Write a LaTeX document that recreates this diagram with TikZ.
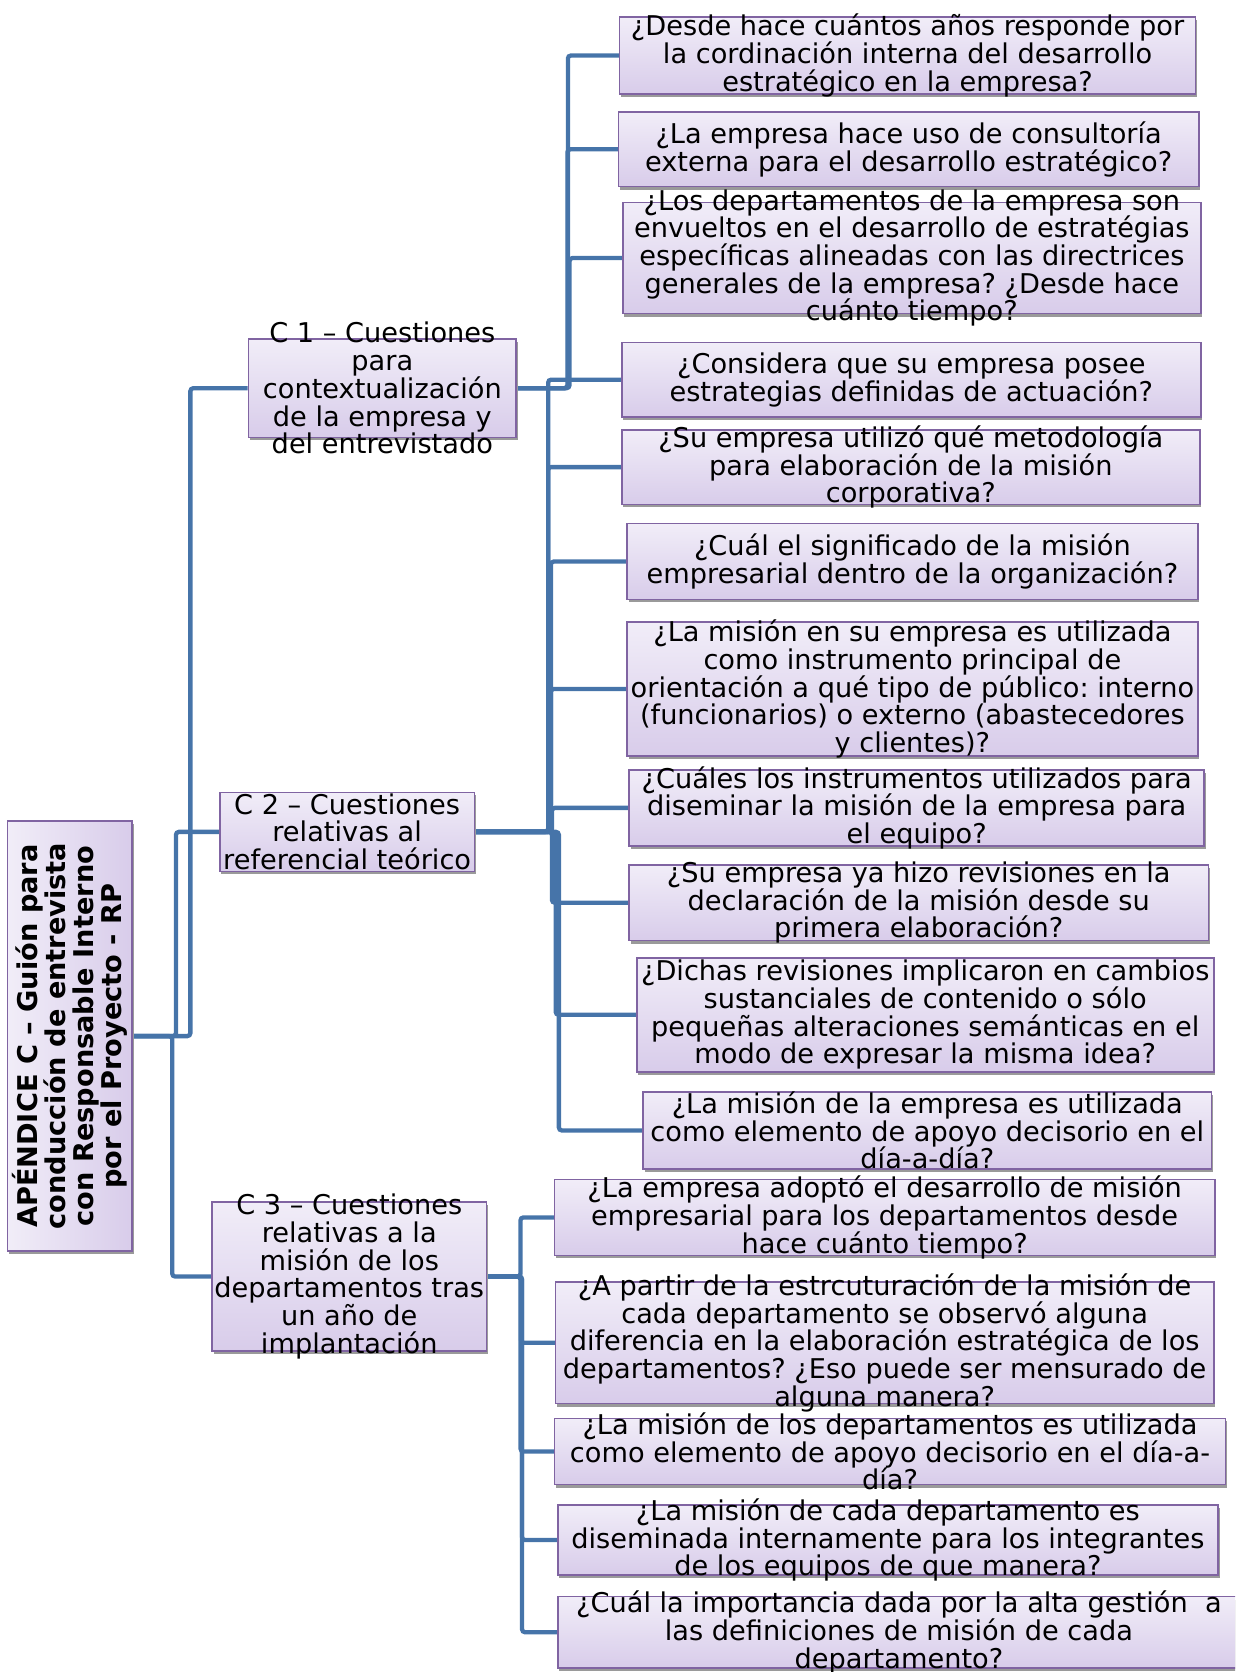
\documentclass[tikz,border=0pt]{standalone}
\usepackage{fontspec}
\setmainfont{DejaVu Sans}
\usetikzlibrary{calc,shadows}
\frenchspacing

\definecolor{linkblue}{HTML}{4674A9}
\definecolor{boxedge}{HTML}{8064A2}
\definecolor{filltop}{HTML}{F1EDF8}
\definecolor{fillbot}{HTML}{D8CCEA}
\definecolor{shadowgrey}{HTML}{9A9A9A}

\pgfdeclarelayer{links}
\pgfsetlayers{links,main}

\tikzset{
  boxbase/.style={draw=boxedge, line width=1.6pt, inner sep=0pt,
    general shadow={shadow xshift=1.5pt, shadow yshift=-3pt, fill=shadowgrey}},
  qbox/.style={boxbase, top color=filltop, bottom color=fillbot},
  rootbox/.style={boxbase, left color=filltop, right color=fillbot},
  qtext/.style={align=center, inner sep=0pt, text=black,
    font=\fontsize{27.2}{27.7}\selectfont\frenchspacing},
  conn/.style={draw=linkblue, line width=4.3pt, rounded corners=3pt},
}

% box from corner (x1,y1) to (x2,y2) with its centred text
\newcommand\qboxat[6]{%
  \node[qbox, minimum width={(#4-#2)*1pt}, minimum height={(#5-#3)*1pt}]
    (#1) at ({(#2+#4)/2},{(#3+#5)/2}) {};
  \node[qtext] (#1t) at (#1.center) {#6};
}
% elbow connector from a parent's right side to a child's left side
\newcommand\linkto[2]{%
  \draw[conn] (#1.east) -| ($(#1.east)!.5!(#2.west)$) |- (#2.west);
}

\begin{document}
\begin{tikzpicture}[x=1pt, y=-1pt]
\useasboundingbox (0,0) rectangle (1235,1672);
\clip (0,0) rectangle (1235,1672);

% root
\node[rootbox, minimum width=124.7pt, minimum height=429.8pt] (root) at (69.85,1036.1) {};
\node[qtext, rotate=90] (roott) at (root.center)
  {\bfseries APÉNDICE C – Guión para\\\bfseries conducción de entrevista\\\bfseries con Responsable Interno\\\bfseries por el Proyecto - RP};

% sections
\qboxat{c1}{248.5}{339.1}{516.2}{437.3}{C 1 – Cuestiones\\para\\contextualización\\de la empresa y\\del entrevistado}
\qboxat{c2}{219.7}{792.4}{474.6}{871.3}{C 2 – Cuestiones\\relativas al\\referencial teórico}
\qboxat{c3}{212.2}{1201.9}{486.3}{1351.2}{C 3 – Cuestiones\\relativas a la\\misión de los\\departamentos tras\\un año de\\implantación}

% questions
\qboxat{q1}{619.6}{17.1}{1195.5}{93.9}{¿Desde hace cuántos años responde por\\la cordinación interna del desarrollo\\estratégico en la empresa?}
\qboxat{q2}{618.6}{112.0}{1198.7}{186.6}{¿La empresa hace uso de consultoría\\externa para el desarrollo estratégico?}
\qboxat{q3}{622.8}{202.6}{1200.9}{313.5}{¿Los departamentos de la empresa son\\envueltos en el desarrollo de estratégias\\específicas alineadas con las directrices\\generales de la empresa? ¿Desde hace\\cuánto tiempo?}
\qboxat{q4}{621.7}{342.3}{1200.9}{417.0}{¿Considera que su empresa posee\\estrategias definidas de actuación?}
\qboxat{q5}{621.7}{429.8}{1199.9}{504.4}{¿Su empresa utilizó qué metodología\\para elaboración de la misión\\corporativa?}
\qboxat{q6}{627.1}{523.6}{1197.7}{599.4}{¿Cuál el significado de la misión\\empresarial dentro de la organización?}
\qboxat{q7}{627.1}{621.8}{1197.7}{756.1}{¿La misión en su empresa es utilizada\\como instrumento principal de\\orientación a qué tipo de público: interno\\(funcionarios) o externo (abastecedores\\y clientes)?}
\qboxat{q8}{629.2}{770.0}{1204.1}{845.7}{¿Cuáles los instrumentos utilizados para\\diseminar la misión de la empresa para\\el equipo?}
\qboxat{q9}{629.2}{864.9}{1208.3}{940.6}{¿Su empresa ya hizo revisiones en la\\declaración de la misión desde su\\primera elaboración?}
\qboxat{q10}{636.7}{957.7}{1213.7}{1071.8}{¿Dichas revisiones implicaron en cambios\\sustanciales de contenido o sólo\\pequeñas alteraciones semánticas en el\\modo de expresar la misma idea?}
\qboxat{q11}{643.1}{1092.0}{1211.5}{1168.9}{¿La misión de la empresa es utilizada\\como elemento de apoyo decisorio en el\\día-a-día?}
\qboxat{q12}{554.6}{1179.5}{1214.7}{1255.3}{¿La empresa adoptó el desarrollo de misión\\empresarial para los departamentos desde\\hace cuánto tiempo?}
\qboxat{q13}{555.6}{1281.9}{1213.7}{1403.5}{¿A partir de la estrcuturación de la misión de\\cada departamento se observó alguna\\diferencia en la elaboración estratégica de los\\departamentos? ¿Eso puede ser mensurado de\\alguna manera?}
\qboxat{q14}{554.6}{1418.4}{1225.4}{1484.5}{¿La misión de los departamentos es utilizada\\como elemento de apoyo decisorio en el día-a-\\día?}
\qboxat{q15}{557.8}{1504.8}{1218.0}{1575.2}{¿La misión de cada departamento es\\diseminada internamente para los integrantes\\de los equipos de que manera?}
\qboxat{q16}{557.8}{1596.5}{1240.0}{1668.0}{¿Cuál la importancia dada por la alta gestión\ \ a\\las definiciones de misión de cada\\departamento?}

% connectors, under the boxes
\begin{pgfonlayer}{links}
  \linkto{root}{c1}
  \linkto{root}{c2}
  \linkto{root}{c3}
  \linkto{c1}{q1}
  \linkto{c1}{q2}
  \linkto{c1}{q3}
  \linkto{c2}{q4}
  \linkto{c2}{q5}
  \linkto{c2}{q6}
  \linkto{c2}{q7}
  \linkto{c2}{q8}
  \linkto{c2}{q9}
  \linkto{c2}{q10}
  \linkto{c2}{q11}
  \linkto{c3}{q12}
  \linkto{c3}{q13}
  \linkto{c3}{q14}
  \linkto{c3}{q15}
  \linkto{c3}{q16}
\end{pgfonlayer}
\end{tikzpicture}
\end{document}
